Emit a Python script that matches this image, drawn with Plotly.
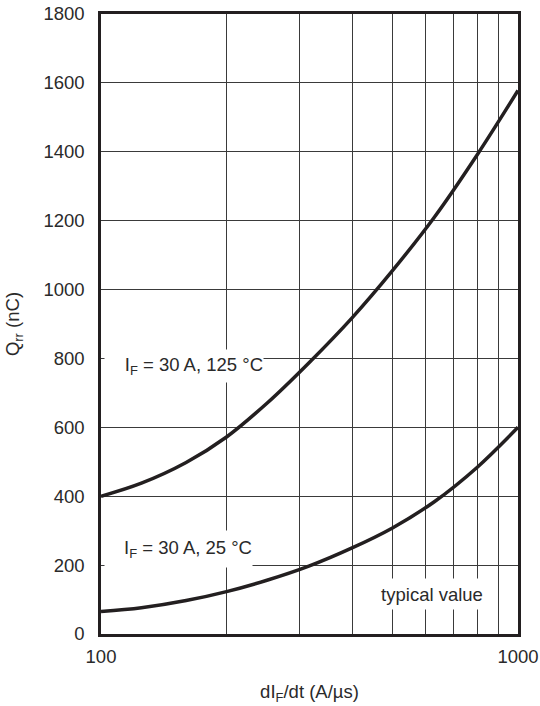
import plotly.graph_objects as go

# Data (dI_F/dt in A/µs, Qrr in nC)
didt = [100, 125, 160, 200, 250, 315, 400, 500, 630, 800, 1000]
qrr_125 = [400, 438, 498, 572, 670, 787, 918, 1055, 1210, 1393, 1578]
qrr_25 = [65, 76, 97, 123, 156, 197, 250, 308, 384, 485, 600]

x_ticks = [100, 1000]
x_ticktext = ["100", "1000"]
x_minor_grid = [200, 300, 400, 500, 600, 700, 800, 900]
y_ticks = [0, 200, 400, 600, 800, 1000, 1200, 1400, 1600, 1800]

INK = "#231f20"
TXT = "#2a2a2a"
GRID = "#3a3a3a"
FONT = "Liberation Sans, Arial, sans-serif"
FS = 18.5

fig = go.Figure()
fig.add_trace(go.Scatter(x=didt, y=qrr_125, mode="lines",
                         line=dict(color=INK, width=3.5, shape="spline", smoothing=1),
                         showlegend=False, hoverinfo="skip"))
fig.add_trace(go.Scatter(x=didt, y=qrr_25, mode="lines",
                         line=dict(color=INK, width=3.5, shape="spline", smoothing=1),
                         showlegend=False, hoverinfo="skip"))

ann_common = dict(showarrow=False, bgcolor="white", borderpad=0,
                  font=dict(family=FONT, size=FS, color=TXT))
fig.add_annotation(text="I<sub>F</sub> = 30 A, 125 °C", xref="paper", yref="y",
                   x=0.007, y=777, xanchor="left", yanchor="middle",
                   width=158, height=32, align="right", valign="middle", **ann_common)
fig.add_annotation(text="I<sub>F</sub> = 30 A, 25 °C", xref="paper", yref="y",
                   x=0.007, y=246, xanchor="left", yanchor="middle",
                   width=147, height=36, align="right", valign="middle", **ann_common)
fig.add_annotation(text="typical value", xref="paper", yref="y",
                   x=0.794, y=117, xanchor="center", yanchor="middle",
                   width=112, height=30, align="center", valign="middle", **ann_common)

fig.update_xaxes(type="log", range=[2, 3], tickmode="array",
                 tickvals=x_ticks, ticktext=x_ticktext,
                 showgrid=False,
                 minor=dict(tickmode="array", tickvals=x_minor_grid, ticks="",
                            showgrid=True, gridcolor=GRID, gridwidth=1.2),
                 showline=True, linecolor=INK, linewidth=2.5, mirror=True,
                 ticks="", ticklabelstandoff=4, ticklabeloverflow="allow",
                 tickfont=dict(family=FONT, size=FS, color=TXT),
                 title=dict(text="dI<sub>F</sub>/dt (A/µs)", standoff=20,
                            font=dict(family=FONT, size=FS, color=TXT)),
                 zeroline=False)
fig.update_yaxes(range=[0, 1800], tickvals=y_ticks,
                 showgrid=True, gridcolor=GRID, gridwidth=1.2,
                 showline=True, linecolor=INK, linewidth=2.5, mirror=True,
                 ticks="", ticklabelstandoff=10, ticklabeloverflow="allow",
                 tickfont=dict(family=FONT, size=FS, color=TXT),
                 title=dict(text="Q<sub>rr</sub> (nC)", standoff=19,
                            font=dict(family=FONT, size=FS, color=TXT)),
                 zeroline=False)

fig.update_layout(width=540, height=706,
                  margin=dict(l=101, r=22, t=14, b=72, autoexpand=False),
                  paper_bgcolor="white", plot_bgcolor="white",
                  font=dict(family=FONT, size=FS, color=TXT))

# Remove the browser's default body margin so the figure fills the window exactly.
fig.write_html("out.html",
               config={"displayModeBar": False},
               post_script="document.body.style.margin='0';"
                           "document.body.style.overflow='hidden';")
